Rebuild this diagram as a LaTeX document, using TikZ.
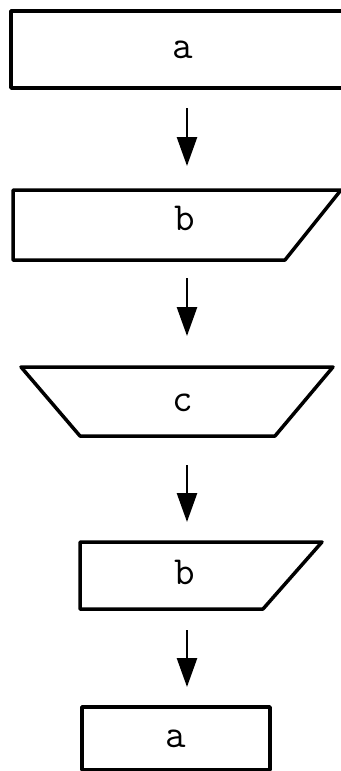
\documentclass[tikz,border=0pt]{standalone}
\usepackage{fontspec}
\setmonofont{Latin Modern Mono}
\usetikzlibrary{arrows.meta}
\newdimen\pxu \pxu=0.03cm
\newcommand{\boxfont}{\ttfamily\bfseries\fontsize{34pt}{38pt}\selectfont}

\begin{document}
\begin{tikzpicture}[
  x=0.03cm, y=-0.03cm,
  every node/.style={font=\boxfont},
  every label/.style={font=\boxfont},
  frame/.style={line width=0.105cm, line join=round},
  blk/.style={rectangle, inner sep=0pt, outer sep=0pt},
  arr/.style={-{Triangle[length=0.87cm,width=0.6cm]}, line width=0.08cm},
]
\useasboundingbox (0,0) rectangle (341,771);
\clip (0,0) rectangle (341,771);

%% ---- blocks ----
\node[blk, frame, draw, minimum width=344\pxu, minimum height=77\pxu] (top) at (183,49.5) {a};
\node[blk, minimum width=328\pxu, minimum height=70\pxu,
      label={[xshift=8\pxu, yshift=7\pxu]center:b}] (outa) at (177,225) {};
\node[blk, minimum width=312\pxu, minimum height=69\pxu,
      label={[xshift=6\pxu, yshift=-1\pxu]center:c}] (proc) at (177,401.5) {};
\node[blk, minimum width=242\pxu, minimum height=67\pxu,
      label={[xshift=-16\pxu, yshift=3\pxu]center:b}] (outb) at (201,575.5) {};
\node[blk, frame, draw, minimum width=188\pxu, minimum height=63\pxu] (bot) at (176,738.5) {a};

%% ---- outlines ----
\draw[frame] (outa.north west) -- (outa.north east) -- ([xshift=-56\pxu]outa.south east)
  -- (outa.south west) -- cycle;
\draw[frame] (proc.north west) -- (proc.north east) -- ([xshift=-58\pxu]proc.south east)
  -- ([xshift=59\pxu]proc.south west) -- cycle;
\draw[frame] (outb.north west) -- (outb.north east) -- ([xshift=-59\pxu]outb.south east)
  -- (outb.south west) -- cycle;

%% ---- arrows ----
\coordinate (spine) at (187,0);
\draw[arr, shorten <=0.6cm, shorten >=0.72cm] (top.south -| spine) -- (outa.north -| spine);
\draw[arr, shorten <=0.54cm, shorten >=0.93cm] (outa.south -| spine) -- (proc.north -| spine);
\draw[arr, shorten <=0.87cm, shorten >=0.6cm] (proc.south -| spine) -- (outb.north -| spine);
\draw[arr, shorten <=0.63cm, shorten >=0.6cm] (outb.south -| spine) -- (bot.north -| spine);

\end{tikzpicture}
\end{document}
